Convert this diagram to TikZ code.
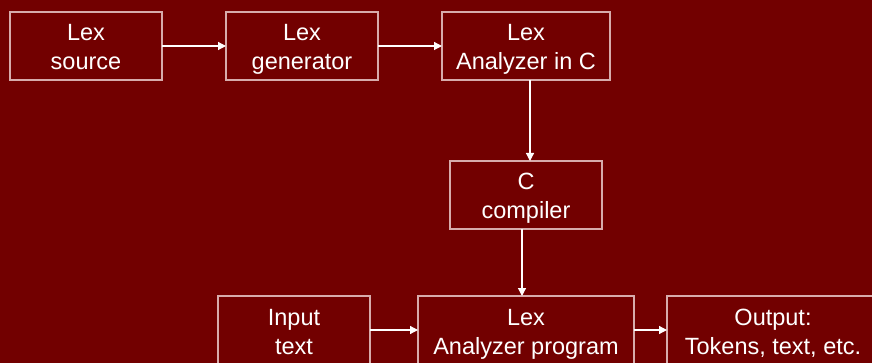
\documentclass[tikz,border=0pt]{standalone}
\usepackage{fontspec}
\setmainfont{Liberation Sans}
\usetikzlibrary{arrows.meta,positioning}

\definecolor{slidebg}{RGB}{114,0,0}
\definecolor{boxline}{RGB}{215,172,172}

\tikzset{
	lexbox/.style={draw=boxline,line width=1.5pt,text=white,inner sep=0pt,outer sep=0pt,
		minimum width=152pt,minimum height=68pt,align=center,
		text height=51pt,text depth=3pt,
		font=\fontsize{23.5}{29}\selectfont},
	flow/.style={->,draw=white,line width=1.2pt}
}

\begin{document}
\begin{tikzpicture}[x=1pt,y=1pt,>={Triangle[length=8pt,width=8pt,fill=white]},node distance=64pt]
				\fill[slidebg] (0,0) rectangle (872,-363);
				\useasboundingbox (0,0) rectangle (872,-363);
				\clip (0,0) rectangle (872,-363);
				% top row
				\node[lexbox] (l_src) at (86,-46) {Lex\\source};
				\node[lexbox] [right= of l_src] (l_gen) {Lex\\generator};
				\node[lexbox,minimum width=168pt] [right= of l_gen] (l_c) {Lex\\Analyzer in C};
				% middle and bottom
				\node[lexbox] [below=81pt of l_c] (c_cc) {C\\compiler};
				\node[lexbox,minimum width=216pt] [below=67pt of c_cc] (l_prog) {Lex\\Analyzer program};
				\node[lexbox] [left=48pt of l_prog] (in_txt) {Input\\text};
				\node[lexbox,minimum width=212pt] [right=33pt of l_prog] (out_txt) {Output:\\Tokens, text, etc.};
				\draw[flow] (l_src) -- (l_gen);
				\draw[flow] (l_gen) -- (l_c);
				\draw[flow] ([xshift=4pt]l_c.south) -- ([xshift=4pt]c_cc.north);
				\draw[flow] ([xshift=-4pt]c_cc.south) -- ([xshift=-4pt]l_prog.north);
				\draw[flow] (in_txt) -- (l_prog);
				\draw[flow] (l_prog) -- (out_txt);
			\end{tikzpicture}
\end{document}
